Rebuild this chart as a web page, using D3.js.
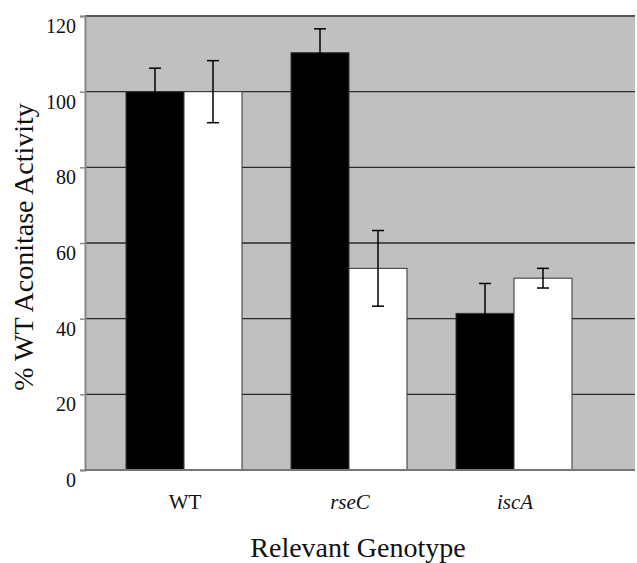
<!DOCTYPE html>
<html><head><meta charset="utf-8">
<script src="https://cdn.jsdelivr.net/npm/d3@7"></script>
<style>body{margin:0;background:#fff}svg{display:block}svg text{font-family:"Liberation Serif","DejaVu Serif",serif !important;fill:#111}</style>
</head><body><svg id="c" width="637" height="563"></svg>
<script>
const categories = ["WT", "rseC", "iscA"];
const italicCats = [false, true, true];
const series = ["black", "white"];
const blackValues = [100, 110.3, 41.4];
const blackErrors = [6.2, 6.3, 7.9];
const whiteValues = [100, 53.3, 50.7];
const whiteErrors = [8.2, 10.0, 2.6];
const yTicks = [0, 20, 40, 60, 80, 100, 120];

const SERIF = '"Liberation Serif", serif';
const svg = d3.select("#c");
const L = 85, R = 635, T = 16, B = 470;
const y = d3.scaleLinear().domain([0, 120]).range([B, T]);
const x = d3.scaleBand().domain(categories).range([126, 572]).paddingInner(0.297).paddingOuter(0);
const xs = d3.scaleBand().domain(series).range([0, x.bandwidth()]);

svg.append("rect").attr("x", L).attr("y", T).attr("width", R - L).attr("height", B - T).attr("fill", "#c0c0c0");

svg.append("g").selectAll("line").data(yTicks.filter(d => d > 0)).join("line")
  .attr("x1", L).attr("x2", R).attr("y1", d => y(d)).attr("y2", d => y(d))
  .attr("stroke", d => d === 120 ? "#555" : "#2a2a2a").attr("stroke-width", d => d === 120 ? 2 : 1.3);

const rows = categories.map((c, i) => ({c, vals: [
  {s: "black", v: blackValues[i], e: blackErrors[i]},
  {s: "white", v: whiteValues[i], e: whiteErrors[i]}]}));

const g = svg.append("g").selectAll("g").data(rows).join("g").attr("transform", d => `translate(${x(d.c)},0)`);
g.selectAll("rect").data(d => d.vals).join("rect")
  .attr("x", d => xs(d.s)).attr("width", xs.bandwidth())
  .attr("y", d => y(d.v)).attr("height", d => y(0) - y(d.v))
  .attr("fill", d => d.s === "black" ? "#000" : "#fff")
  .attr("stroke", "#333").attr("stroke-width", 1);

const eb = g.selectAll("g.eb").data(d => d.vals).join("g").attr("class", "eb")
  .attr("transform", d => `translate(${xs(d.s) + xs.bandwidth() / 2},0)`);
eb.append("line").attr("x1", 0).attr("x2", 0).attr("y1", d => y(d.v + d.e)).attr("y2", d => y(d.v - d.e))
  .attr("stroke", "#000").attr("stroke-width", 1.5);
eb.append("line").attr("x1", -6).attr("x2", 6).attr("y1", d => y(d.v + d.e)).attr("y2", d => y(d.v + d.e))
  .attr("stroke", "#000").attr("stroke-width", 1.5);
eb.append("line").attr("x1", -6).attr("x2", 6).attr("y1", d => y(d.v - d.e)).attr("y2", d => y(d.v - d.e))
  .attr("stroke", "#000").attr("stroke-width", 1.5);

const yAxis = d3.axisLeft(y).tickValues(yTicks).tickSize(5).tickPadding(4);
const ya = svg.append("g").attr("transform", `translate(${L},0)`).call(yAxis)
  .attr("font-family", SERIF).attr("font-size", 20);
ya.select(".domain").attr("stroke", "#888").attr("stroke-width", 2);
ya.selectAll(".tick line").attr("stroke", "#888").attr("stroke-width", 1.5);
ya.selectAll(".tick text").style("font-family", SERIF).style("font-size", "20px").attr("fill", "#111").attr("dy", "0.82em");

svg.append("line").attr("x1", L).attr("x2", R).attr("y1", B).attr("y2", B).attr("stroke", "#777").attr("stroke-width", 2);

svg.append("g").selectAll("text").data(categories).join("text")
  .attr("x", d => x(d) + x.bandwidth() / 2 + 1).attr("y", 509)
  .attr("text-anchor", "middle").style("font-size", "21px").style("font-family", SERIF)
  .style("font-style", (d, i) => italicCats[i] ? "italic" : "normal")
  .text(d => d);

svg.append("text").attr("x", 358).attr("y", 557).attr("text-anchor", "middle")
  .style("font-size", "28px").style("font-family", SERIF).text("Relevant Genotype");
svg.append("text").attr("transform", "translate(33,247) rotate(-90)").attr("text-anchor", "middle")
  .style("font-size", "28px").style("font-family", SERIF).text("% WT Aconitase Activity");
</script></body></html>
